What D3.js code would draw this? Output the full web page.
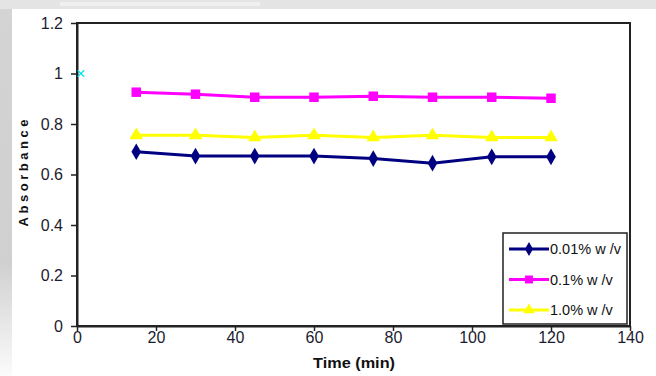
<!DOCTYPE html>
<html>
<head>
<meta charset="utf-8">
<script src="https://cdn.jsdelivr.net/npm/d3@7"></script>
<style>
  body { margin: 0; background: #fff; }
  svg { display: block; font-family: "Liberation Sans", Arial, sans-serif; }
</style>
</head>
<body>
<script>
// data
var times = [15, 30, 45, 60, 75, 90, 105, 120];
var seriesNames = ["0.01% w /v", "0.1% w /v", "1.0% w /v"];
var low = [0.69, 0.673, 0.673, 0.673, 0.663, 0.645, 0.67, 0.67];
var mid = [0.926, 0.918, 0.906, 0.906, 0.91, 0.906, 0.906, 0.902];
var high = [0.755, 0.755, 0.747, 0.755, 0.747, 0.755, 0.747, 0.747];
var stray = [[1, 1]]; // lone cyan cross near the y axis
var xTicks = [0, 20, 40, 60, 80, 100, 120, 140];
var yTicks = [0, 0.2, 0.4, 0.6, 0.8, 1, 1.2];

function setChart() {
    var width = 656, height = 376;
    var margin = { top: 23, right: 26, bottom: 50, left: 77 };

    var svg = d3.select("body").append("svg")
        .attr("width", width)
        .attr("height", height);

    // scanned-page look: grey strips on the left and top
    var grad = svg.append("defs").append("linearGradient")
        .attr("id", "fade").attr("x1", 0).attr("x2", 0).attr("y1", 0).attr("y2", 1);
    grad.append("stop").attr("offset", "0%").attr("stop-color", "#d4d4d4");
    grad.append("stop").attr("offset", "70%").attr("stop-color", "#d0d0d0");
    grad.append("stop").attr("offset", "100%").attr("stop-color", "#fbfbfb");
    svg.append("rect").attr("x", 0).attr("y", 0).attr("width", 12).attr("height", height)
        .attr("fill", "url(#fade)");
    svg.append("rect").attr("x", 0).attr("y", 0).attr("width", width).attr("height", 9)
        .attr("fill", "#e4e4e4");
    svg.append("rect").attr("x", 60).attr("y", 2).attr("width", 200).attr("height", 4)
        .attr("fill", "#f0f0f0");

    var x = d3.scaleLinear().domain([0, 140]).range([margin.left, width - margin.right]);
    var y = d3.scaleLinear().domain([0, 1.2]).range([height - margin.bottom, margin.top]);

    // plot frame (top and right)
    svg.append("rect")
        .attr("x", x(0)).attr("y", y(1.2))
        .attr("width", x(140) - x(0)).attr("height", y(0) - y(1.2))
        .attr("fill", "none").attr("stroke", "#222").attr("stroke-width", 2);

    // axes
    var xAxis = svg.append("g")
        .attr("transform", "translate(0," + y(0) + ")")
        .call(d3.axisBottom(x).tickValues(xTicks).tickSize(5).tickSizeOuter(0).tickPadding(1));
    var yAxis = svg.append("g")
        .attr("transform", "translate(" + x(0) + ",0)")
        .call(d3.axisLeft(y).tickValues(yTicks).tickSize(6).tickSizeOuter(0).tickPadding(8)
            .tickFormat(function (d) { return d3.format("")(+d.toFixed(1)); }));
    [xAxis, yAxis].forEach(function (ax) {
        ax.select(".domain").attr("stroke", "#222").attr("stroke-width", 2);
        ax.selectAll(".tick line").attr("stroke", "#222").attr("stroke-width", 1.5);
        ax.selectAll(".tick text").attr("fill", "#1c1c30")
            .attr("font-size", 16);
    });

    svg.append("text")
        .attr("x", 354).attr("y", 368)
        .attr("text-anchor", "middle")
        .attr("font-size", 15.5).attr("font-weight", "bold").attr("fill", "#111")
        .attr("textLength", 82).attr("lengthAdjust", "spacingAndGlyphs")
        .text("Time (min)");
    svg.append("text")
        .attr("transform", "translate(28,173) rotate(-90)")
        .attr("text-anchor", "middle")
        .attr("font-size", 13).attr("font-weight", "bold").attr("fill", "#111")
        .attr("textLength", 107).attr("lengthAdjust", "spacing")
        .text("Absorbance");

    var series = [
        { name: seriesNames[0], values: low, color: "#000080", symbol: d3.symbolDiamond, size: 80 },
        { name: seriesNames[1], values: mid, color: "#ff00ff", symbol: d3.symbolSquare, size: 90 },
        { name: seriesNames[2], values: high, color: "#ffff00", symbol: d3.symbolTriangle, size: 80 }
    ];

    var line = d3.line()
        .x(function (d, i) { return x(times[i]); })
        .y(function (d) { return y(d); });

    series.forEach(function (s) {
        svg.append("path")
            .datum(s.values)
            .attr("d", line)
            .attr("fill", "none")
            .attr("stroke", s.color)
            .attr("stroke-width", 3);
        svg.selectAll(null)
            .data(s.values)
            .join("path")
            .attr("transform", function (d, i) { return "translate(" + x(times[i]) + "," + y(d) + ")"; })
            .attr("d", d3.symbol().type(s.symbol).size(s.size))
            .attr("fill", s.color);
    });

    // cyan cross
    svg.selectAll(null)
        .data(stray)
        .join("path")
        .attr("transform", function (d) { return "translate(" + x(d[0]) + "," + y(d[1]) + ")"; })
        .attr("d", d3.symbol().type(d3.symbolX).size(30))
        .attr("fill", "none")
        .attr("stroke", "#00e5ee")
        .attr("stroke-width", 1.2);

    // legend
    var legend = svg.append("g").attr("transform", "translate(503,233)");
    legend.append("rect")
        .attr("width", 124).attr("height", 91)
        .attr("fill", "#fff").attr("stroke", "#222").attr("stroke-width", 1.5);
    series.forEach(function (s, i) {
        var row = legend.append("g").attr("transform", "translate(0," + (16 + i * 30.5) + ")");
        row.append("line")
            .attr("x1", 6).attr("x2", 46)
            .attr("stroke", s.color).attr("stroke-width", 3);
        row.append("path")
            .attr("transform", "translate(26,0)")
            .attr("d", d3.symbol().type(s.symbol).size(s.size * 0.7))
            .attr("fill", s.color);
        row.append("text")
            .attr("x", 47).attr("y", 5)
            .attr("font-size", 14.5).attr("fill", "#111")
            .text(s.name);
    });
}

window.onload = setChart();
</script>
</body>
</html>
